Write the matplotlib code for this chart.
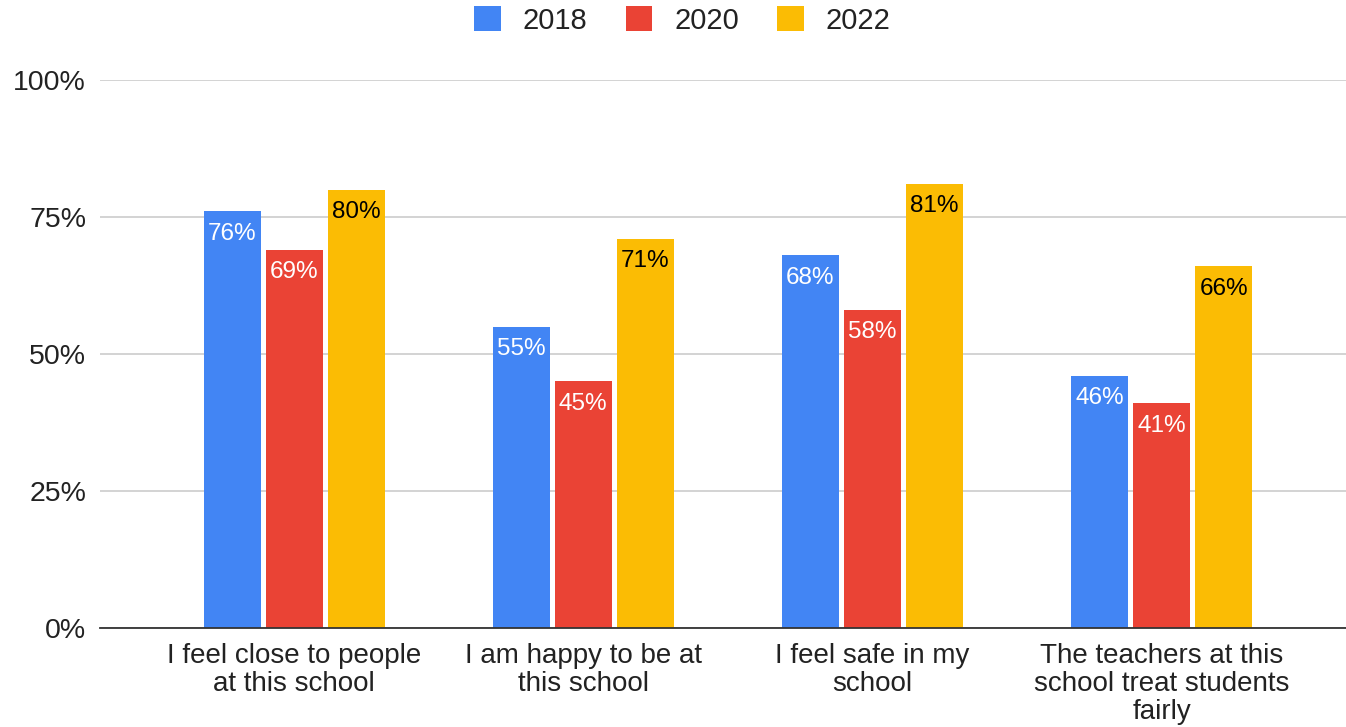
import matplotlib.pyplot as plt
import numpy as np

plt.rcParams['font.family'] = ['Liberation Sans', 'DejaVu Sans']

categories = ['I feel close to people\nat this school', 'I am happy to be at\nthis school',
              'I feel safe in my\nschool', 'The teachers at this\nschool treat students\nfairly']
years = ['2018', '2020', '2022']
v2018 = [76, 55, 68, 46]
v2020 = [69, 45, 58, 41]
v2022 = [80, 71, 81, 66]
colors = ['#4285F4', '#EA4335', '#FBBC04']
label_colors = ['white', 'white', 'black']

fig = plt.figure(figsize=(13.46, 7.27), dpi=100)
ax = fig.add_axes([0.0743, 0.1362, 0.9257, 0.7538])

x = np.arange(len(categories))
width = 0.197
step = 0.2145
for i, (vals, c, lc, yr) in enumerate(zip([v2018, v2020, v2022], colors, label_colors, years)):
    pos = x + (i - 1) * step
    bars = ax.bar(pos, vals, width, color=c, label=yr, zorder=3)
    for b, v in zip(bars, vals):
        ax.annotate(f'{v}%', (b.get_x() + b.get_width() / 2, v), xytext=(0, -16),
                    textcoords='offset points', ha='center', va='center',
                    color=lc, fontsize=17.5, zorder=4)

ax.set_xlim(-0.671, 3.637)
ax.set_ylim(0, 100)
ax.set_yticks([0, 25, 50, 75, 100])
ax.set_yticklabels(['0%', '25%', '50%', '75%', '100%'], fontsize=20.5, color='#222222')
ax.set_xticks(x)
ax.set_xticklabels(categories, fontsize=20, color='#222222', linespacing=1.1)
ax.tick_params(axis='both', length=0)
ax.tick_params(axis='x', pad=11)
ax.tick_params(axis='y', pad=10)
ax.grid(axis='y', color='#cccccc', linewidth=1.2, zorder=0)
for s in ['top', 'right', 'left']:
    ax.spines[s].set_visible(False)
ax.spines['bottom'].set_color('#333333')
ax.spines['bottom'].set_linewidth(1.3)
ax.spines['bottom'].set_zorder(5)

fig.legend(*ax.get_legend_handles_labels(), loc='center', bbox_to_anchor=(0.507, 0.972),
           ncol=3, frameon=False, fontsize=21, handlelength=0.92, handleheight=0.92,
           columnspacing=1.3, handletextpad=0.75, labelcolor='#222222')

fig.savefig('out.png', dpi=100)
